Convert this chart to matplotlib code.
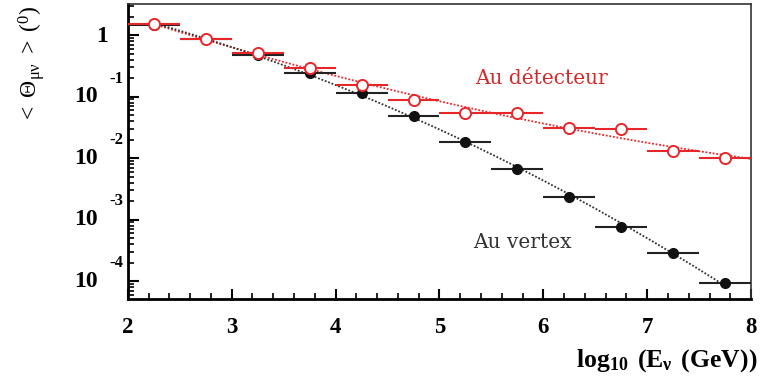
import numpy as np
import matplotlib.pyplot as plt
from matplotlib.ticker import LogLocator, MultipleLocator, NullFormatter

plt.rcParams['font.family'] = ['Liberation Serif', 'DejaVu Serif']
plt.rcParams['mathtext.fontset'] = 'custom'
plt.rcParams['mathtext.rm'] = 'Liberation Serif'
plt.rcParams['mathtext.it'] = 'Liberation Serif:italic'
plt.rcParams['mathtext.bf'] = 'Liberation Serif:bold'

# bin centres in log10(E/GeV), half bin width 0.25
log_e = [2.25, 2.75, 3.25, 3.75, 4.25, 4.75, 5.25, 5.75, 6.25, 6.75, 7.25, 7.75]
half_width = 0.25

# mean angle (degrees) at the interaction vertex and at the detector
theta_vertex = [1.46, 0.86, 0.47, 0.238, 0.116, 0.0489, 0.0183, 0.0066,
                0.0023, 7.7e-4, 2.9e-4, 9.3e-5]
theta_detector = [1.51, 0.88, 0.507, 0.288, 0.157, 0.0893, 0.0547, 0.0547,
                  0.031, 0.0299, 0.013, 0.0100]

decades = [0, -1, -2, -3, -4]

red = '#e8262a'
blk = '#111111'

fig = plt.figure(figsize=(7.61, 3.78), dpi=100)
ax = fig.add_axes([0.168, 0.209, 0.819, 0.780])

x = np.array(log_e)

# polynomial fits in log space, drawn as dotted curves
fv = np.polyfit(x, np.log10(theta_vertex), 2)
fd = np.polyfit(x, np.log10(theta_detector), 2)
xv = np.linspace(2.25, 7.75, 200)
xd = np.linspace(2.25, 8.0, 200)
ax.plot(xd, 10 ** np.polyval(fd, xd), color=red, lw=1.3, ls=(0, (1, 1)), zorder=2)
ax.plot(xv, 10 ** np.polyval(fv, xv), color='#333333', lw=1.3, ls=(0, (1, 1)), zorder=2)

ax.errorbar(x, theta_vertex, xerr=half_width, fmt='o', color=blk, ecolor='#222222',
            elinewidth=1.5, capsize=0, ms=7, zorder=3)
ax.errorbar(x, theta_detector, xerr=half_width, fmt='o', color=red, ecolor=red,
            mfc='white', mec=red, mew=1.4, elinewidth=1.5, capsize=0, ms=8, zorder=4)

ax.text(5.98, 0.2, 'Au détecteur', color='#d42a2a', fontsize=14.5,
        family='DejaVu Serif', ha='center', va='center')
ax.text(5.8, 4.3e-4, 'Au vertex', color='#333333', fontsize=14.5,
        family='DejaVu Serif', ha='center', va='center')

ax.set_yscale('log')
ax.set_xlim(2, 8)
ax.set_ylim(5.1e-5, 3.19)

ax.xaxis.set_major_locator(MultipleLocator(1))
ax.xaxis.set_minor_locator(MultipleLocator(0.2))
ax.yaxis.set_major_locator(LogLocator(base=10, numticks=20))
ax.yaxis.set_minor_locator(LogLocator(base=10, subs=np.arange(2, 10), numticks=20))
ax.yaxis.set_major_formatter(NullFormatter())
ax.yaxis.set_minor_formatter(NullFormatter())

ax.tick_params(axis='both', which='both', direction='in', top=False, right=False, color='black')
ax.tick_params(axis='x', which='major', length=7, width=1.5, labelsize=16.5, pad=13)
ax.tick_params(axis='x', which='minor', length=4, width=1.2)
ax.tick_params(axis='y', which='major', length=8, width=1.5)
ax.tick_params(axis='y', which='minor', length=4, width=1.2)
for lab in ax.get_xticklabels():
    lab.set_fontweight('bold')

# decade labels in the split "10" plus raised exponent layout
for d in decades:
    v = 10.0 ** d
    if d == 0:
        ax.annotate('1', xy=(0, v), xycoords=('axes fraction', 'data'),
                    xytext=(-14.5, -1), textcoords='offset points',
                    ha='right', va='center', fontsize=17, fontweight='bold')
    else:
        ax.annotate('10', xy=(0, v), xycoords=('axes fraction', 'data'),
                    xytext=(-21.5, 0), textcoords='offset points',
                    ha='right', va='center', fontsize=17, fontweight='bold')
        ax.annotate(str(d), xy=(0, v), xycoords=('axes fraction', 'data'),
                    xytext=(-13, 13), textcoords='offset points',
                    ha='left', va='center', fontsize=12, fontweight='bold')

for side in ['left', 'bottom']:
    ax.spines[side].set_linewidth(2)
for side in ['top', 'right']:
    ax.spines[side].set_linewidth(1.2)
    ax.spines[side].set_color('#333333')

fig.text(0.042, 0.83, r'$<\ \Theta_{\mathrm{\mu\nu}}\ >\ (^{0})$', rotation=90,
         ha='center', va='center', fontsize=17)
fig.text(0.995, 0.045, r'$\mathbf{log_{10}\ \,(E_{\nu}\ \,(GeV))}$', ha='right', va='center',
         fontsize=18.5)

fig.savefig('out.png', dpi=100)
